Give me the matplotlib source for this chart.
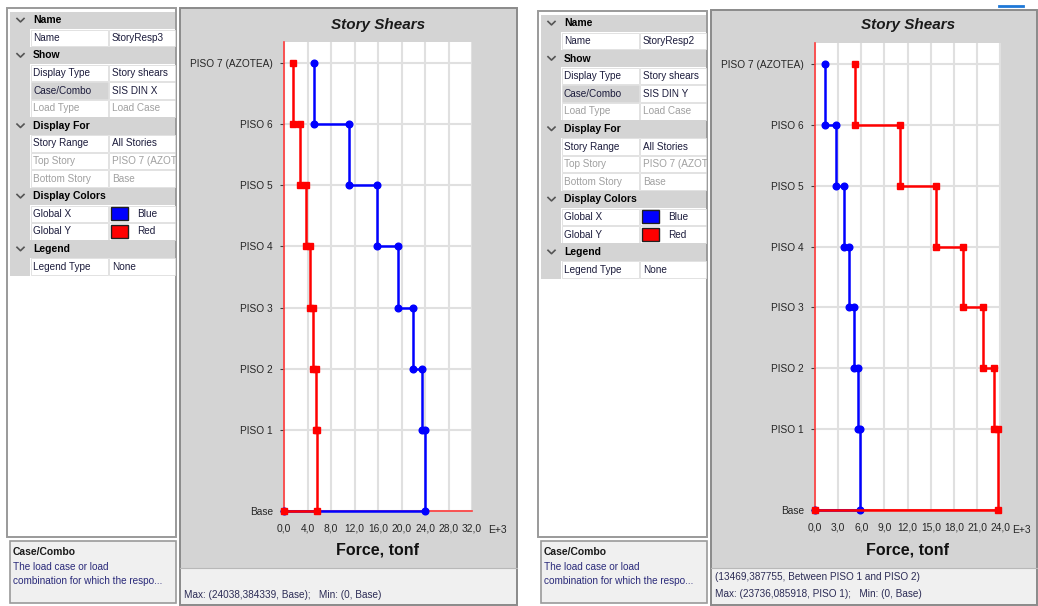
import matplotlib.pyplot as plt
from matplotlib.patches import Rectangle

plt.rcParams['font.family'] = ['Liberation Sans', 'DejaVu Sans']

W, H = 1038, 606

# story levels and their elevation on the vertical axis
stories = ['Base', 'PISO 1', 'PISO 2', 'PISO 3', 'PISO 4', 'PISO 5', 'PISO 6', 'PISO 7 (AZOTEA)']
elevations = [0, 4, 7, 10, 13, 16, 19, 22]

# story shears in E+3 tonf, from PISO 1 up to PISO 7
sisx_global_x = [24.04, 23.48, 22.0, 19.32, 15.78, 11.05, 5.13]
sisx_global_y = [5.70, 5.53, 5.01, 4.39, 3.70, 2.74, 1.48]
sisy_global_x = [5.78, 5.62, 5.06, 4.45, 3.72, 2.72, 1.34]
sisy_global_y = [23.74, 23.22, 21.75, 19.20, 15.69, 11.02, 5.23]

ticks_x_case = [0, 4, 8, 12, 16, 20, 24, 28, 32]
ticks_y_case = [0, 3, 6, 9, 12, 15, 18, 21, 24]

# property grid contents: (kind, name, value, state)
grid_rows_x = [
    ('head', 'Name', '', ''),
    ('prop', 'Name', 'StoryResp3', ''),
    ('head', 'Show', '', ''),
    ('prop', 'Display Type', 'Story shears', ''),
    ('prop', 'Case/Combo', 'SIS DIN X', 'sel'),
    ('prop', 'Load Type', 'Load Case', 'off'),
    ('head', 'Display For', '', ''),
    ('prop', 'Story Range', 'All Stories', ''),
    ('prop', 'Top Story', 'PISO 7 (AZOT', 'off'),
    ('prop', 'Bottom Story', 'Base', 'off'),
    ('head', 'Display Colors', '', ''),
    ('prop', 'Global X', 'Blue', '#0000ff'),
    ('prop', 'Global Y', 'Red', '#ff0000'),
    ('head', 'Legend', '', ''),
    ('prop', 'Legend Type', 'None', ''),
]
grid_rows_y = [r if r[1] not in ('Name', 'Case/Combo') or r[0] == 'head' else
               (r[0], r[1], {'Name': 'StoryResp2', 'Case/Combo': 'SIS DIN Y'}[r[1]], r[3])
               for r in grid_rows_x]

status_x = ['Max: (24038,384339, Base);   Min: (0, Base)']
status_y = ['(13469,387755, Between PISO 1 and PISO 2)',
            'Max: (23736,085918, PISO 1);   Min: (0, Base)']

fig = plt.figure(figsize=(W / 100, H / 100), dpi=100)
bg = fig.add_axes([0, 0, 1, 1])
bg.set_xlim(0, W)
bg.set_ylim(H, 0)
bg.axis('off')


def box(x0, y0, x1, y1, fc, ec='none', lw=1.0):
    bg.add_patch(Rectangle((x0, y0), x1 - x0, y1 - y0, facecolor=fc, edgecolor=ec, lw=lw))


def property_grid(x0, top, rows):
    box(x0, top - 4, x0 + 169, 537, 'white', '#9a9a9a', 1.4)
    rh = 17.6
    # left margin strip runs the full height of the rows
    box(x0 + 3, top, x0 + 23, top + len(rows) * rh, '#d4d4d4')
    for i, (kind, name, value, state) in enumerate(rows):
        y = top + i * rh
        yc = y + rh / 2
        if kind == 'head':
            box(x0 + 3, y, x0 + 168, y + rh, '#d4d4d4')
            bg.plot([x0 + 10, x0 + 13.5, x0 + 17], [yc - 1.8, yc + 1.6, yc - 1.8],
                    color='#555555', lw=1.2)
            bg.text(x0 + 26, yc, name, fontsize=7.5, fontweight='bold', color='black', va='center')
            continue
        name_fc = '#d4d4d4' if state == 'sel' else 'white'
        box(x0 + 24, y + 0.5, x0 + 101, y + rh - 0.5, name_fc, '#dddddd', 0.6)
        box(x0 + 102, y + 0.5, x0 + 168, y + rh - 0.5, 'white', '#dddddd', 0.6)
        tc = '#a0a0a0' if state == 'off' else '#1c1c3c'
        bg.text(x0 + 26, yc, name, fontsize=7.2, color=tc, va='center')
        vx = x0 + 105
        if state.startswith('#'):
            bg.add_patch(Rectangle((x0 + 104, yc - 6.5), 17, 13, facecolor=state,
                                   edgecolor='#202020', lw=1.0))
            vx = x0 + 130
        bg.text(vx, yc, value, fontsize=7.2, color=tc, va='center')
    # description box
    box(x0 + 3, 541, x0 + 169, 603, '#f0f0f0', '#9a9a9a', 1.2)
    bg.text(x0 + 6, 552, 'Case/Combo', fontsize=7.5, fontweight='bold', color='#1a1a1a', va='center')
    bg.text(x0 + 6, 567, 'The load case or load', fontsize=7.2, color='#2a2a7a', va='center')
    bg.text(x0 + 6, 581, 'combination for which the respo...', fontsize=7.2, color='#2a2a7a', va='center')


def story_path(shears):
    xs, ys = [], []
    for i in range(len(shears) - 1, -1, -1):
        xs += [shears[i], shears[i]]
        ys += [elevations[i + 1], elevations[i]]
    xs.append(0)
    ys.append(0)
    return xs, ys


def chart_panel(px0, py0, px1, plot_box, xmax, xticks, blue, red, status, exp_x):
    # gray window with status strip
    box(px0, py0, px1, 605, '#d4d4d4', '#8a8a8a', 1.4)
    box(px0 + 1, 568, px1 - 1, 604, '#f0f0f0')
    bg.plot([px0, px1], [568, 568], color='#b8b8b8', lw=0.8)
    sy = 595 if len(status) == 1 else 577
    for k, line in enumerate(status):
        bg.text(px0 + 4, sy + k * 17, line, fontsize=7.2, color='#2b2b55', va='center')

    left, top, right, bottom = plot_box
    cx = (left + right) / 2
    bg.text(cx, 25, 'Story Shears', fontsize=11, fontweight='bold', style='italic',
            color='#1a1a1a', ha='center', va='center')
    bg.text(cx, 550, 'Force, tonf', fontsize=11.5, fontweight='bold',
            color='#111111', ha='center', va='center')
    bg.text(exp_x, 530, 'E+3', fontsize=7.4, color='#262626', va='center')

    ax = fig.add_axes([left / W, 1 - bottom / H, (right - left) / W, (bottom - top) / H])
    ax.set_facecolor('white')
    ax.set_xlim(0, xmax)
    ax.set_ylim(0, 23.05)
    ax.set_xticks(xticks, [f'{t:.1f}'.replace('.', ',') for t in xticks])
    ax.set_yticks(elevations, stories)
    ax.grid(color='#e0e0e0', lw=1.5)
    ax.set_axisbelow(True)
    for s in ('top', 'right'):
        ax.spines[s].set_visible(False)
    for s in ('left', 'bottom'):
        ax.spines[s].set_color('#ff3b3b')
        ax.spines[s].set_linewidth(1.2)
    ax.tick_params(axis='x', length=0, pad=9, labelsize=7.4, labelcolor='#262626')
    ax.tick_params(axis='y', length=3, width=0.8, color='#404040', pad=5,
                   labelsize=7.3, labelcolor='#262626')

    bx, by = story_path(blue)
    ax.plot(bx, by, color='#0000ff', lw=1.8, marker='o', ms=4.8, zorder=3, clip_on=False)
    rx, ry = story_path(red)
    ax.plot(rx, ry, color='#ff0000', lw=1.8, marker='s', ms=4.6, zorder=4, clip_on=False)
    return ax


property_grid(7, 11.5, grid_rows_x)
property_grid(538, 14.5, grid_rows_y)

chart_panel(180, 8, 517, (284, 42, 472, 511), 32, ticks_x_case,
            sisx_global_x, sisx_global_y, status_x, 488)
chart_panel(711, 10, 1037, (815, 43, 1001, 510), 24.1, ticks_y_case,
            sisy_global_x, sisy_global_y, status_y, 1012)

# small tab marker on the top edge of the right window
bg.plot([999, 1023], [5.5, 5.5], color='#1e78d7', lw=2)

fig.savefig('out.png', dpi=100)
